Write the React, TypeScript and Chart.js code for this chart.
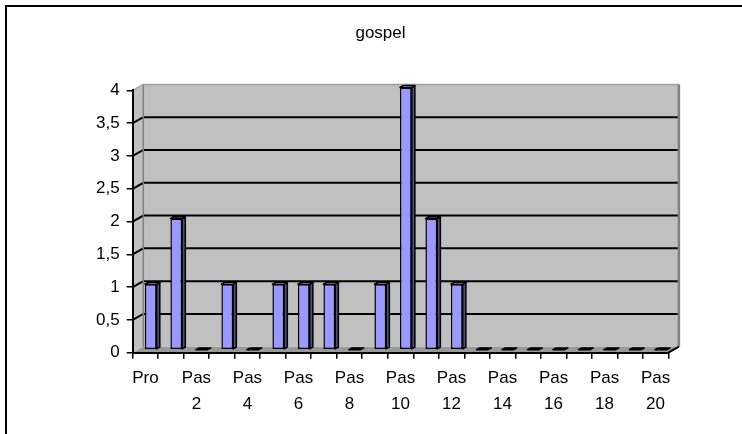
import React, { useEffect, useRef } from "react";
import { Chart, registerables } from "chart.js";

Chart.register(...registerables);

const TITLE = "gospel";
const LABELS = [
  "Pro", "Pas 1", "Pas 2", "Pas 3", "Pas 4", "Pas 5", "Pas 6", "Pas 7", "Pas 8", "Pas 9", "Pas 10",
  "Pas 11", "Pas 12", "Pas 13", "Pas 14", "Pas 15", "Pas 16", "Pas 17", "Pas 18", "Pas 19", "Pas 20",
];
const VALUES = [1, 2, 0, 1, 0, 1, 1, 1, 0, 1, 4, 2, 1, 0, 0, 0, 0, 0, 0, 0, 0];
const Y_MIN = 0;
const Y_MAX = 4;
const Y_STEP = 0.5;

const FONT = "'Liberation Sans', Arial, sans-serif";
const DX = 10.6;
const DY = 6;

const wallPlugin = {
  id: "walls3d",
  beforeDraw(chart: any) {
    const { ctx, chartArea: a, scales } = chart;
    const ys = scales.y;
    ctx.save();
    ctx.fillStyle = "#fff";
    ctx.fillRect(0, 0, chart.width, chart.height);
    // outer frame
    ctx.strokeStyle = "#000";
    ctx.lineWidth = 2;
    ctx.beginPath();
    ctx.moveTo(6, chart.height + 2);
    ctx.lineTo(6, 6);
    ctx.lineTo(chart.width + 2, 6);
    ctx.stroke();

    const y0 = ys.getPixelForValue(ys.min);
    const yT = ys.getPixelForValue(ys.max);
    // left wall
    ctx.fillStyle = "#c0c0c0";
    ctx.beginPath();
    ctx.moveTo(a.left, yT);
    ctx.lineTo(a.left + DX, yT - DY);
    ctx.lineTo(a.left + DX, y0 - DY);
    ctx.lineTo(a.left, y0);
    ctx.closePath();
    ctx.fill();
    // back wall
    ctx.fillRect(a.left + DX, yT - DY, a.right - a.left, y0 - yT);
    // floor
    ctx.fillStyle = "#999999";
    ctx.beginPath();
    ctx.moveTo(a.left, y0);
    ctx.lineTo(a.right, y0);
    ctx.lineTo(a.right + DX, y0 - DY);
    ctx.lineTo(a.left + DX, y0 - DY);
    ctx.closePath();
    ctx.fill();

    // grid lines on the back and left walls
    ys.ticks.forEach((t: any) => {
      const v = t.value;
      if (v <= ys.min) return;
      const p = ys.getPixelForValue(v);
      const isTop = v >= ys.max;
      ctx.strokeStyle = isTop ? "#a0a0a0" : "#000";
      ctx.lineWidth = isTop ? 1.5 : 2;
      ctx.beginPath();
      ctx.moveTo(a.left, p);
      ctx.lineTo(a.left + DX, p - DY);
      ctx.lineTo(a.right + DX, p - DY);
      ctx.stroke();
    });
    // wall corner and right edge
    ctx.strokeStyle = "#808080";
    ctx.lineWidth = 1.5;
    ctx.beginPath();
    ctx.moveTo(a.left + DX, yT - DY);
    ctx.lineTo(a.left + DX, y0 - DY);
    ctx.stroke();
    ctx.lineWidth = 2.5;
    ctx.beginPath();
    ctx.moveTo(a.right + DX, yT - DY);
    ctx.lineTo(a.right + DX, y0 - DY);
    ctx.stroke();
    // floor right edge
    ctx.strokeStyle = "#000";
    ctx.lineWidth = 2;
    ctx.beginPath();
    ctx.moveTo(a.right, y0);
    ctx.lineTo(a.right + DX, y0 - DY);
    ctx.stroke();
    ctx.restore();
  },
};

const barPlugin = {
  id: "bars3d",
  beforeDatasetsDraw(chart: any) {
    chart.ctx.save();
    chart.ctx.translate(DX / 2, -DY / 2);
  },
  afterDatasetsDraw(chart: any) {
    const ctx = chart.ctx;
    const meta = chart.getDatasetMeta(0);
    const bd = 3.2;
    const bdy = (bd * DY) / DX;
    ctx.lineWidth = 1.5;
    ctx.strokeStyle = "#000";
    ctx.lineJoin = "round";
    meta.data.forEach((el: any) => {
      const { x, y, base, width } = el.getProps(["x", "y", "base", "width"], true);
      const l = x - width / 2;
      const r = x + width / 2;
      if (base - y > 0.5) {
        ctx.fillStyle = "#4d4d80";
        ctx.beginPath();
        ctx.moveTo(r, y);
        ctx.lineTo(r + bd, y - bdy);
        ctx.lineTo(r + bd, base - bdy);
        ctx.lineTo(r, base);
        ctx.closePath();
        ctx.fill();
        ctx.stroke();
        ctx.fillStyle = "#ccccff";
        ctx.beginPath();
        ctx.moveTo(l, y);
        ctx.lineTo(r, y);
        ctx.lineTo(r + bd, y - bdy);
        ctx.lineTo(l + bd, y - bdy);
        ctx.closePath();
        ctx.fill();
        ctx.stroke();
      } else {
        ctx.fillStyle = "#000";
        ctx.beginPath();
        ctx.moveTo(l, base);
        ctx.lineTo(r, base);
        ctx.lineTo(r + bd, base - bdy);
        ctx.lineTo(l + bd, base - bdy);
        ctx.closePath();
        ctx.fill();
        ctx.stroke();
      }
    });
    ctx.restore();
  },
};

export default function App() {
  const ref = useRef<HTMLCanvasElement | null>(null);

  useEffect(() => {
    if (!ref.current) return;
    const chart = new Chart(ref.current, {
      type: "bar",
      data: {
        labels: LABELS,
        datasets: [
          {
            data: VALUES,
            backgroundColor: "#9999ff",
            borderColor: "#000",
            borderWidth: 1.5,
            borderSkipped: false,
            barPercentage: 0.46,
            categoryPercentage: 1,
            clip: false,
          } as any,
        ],
      },
      options: {
        animation: false,
        responsive: false,
        events: [],
        layout: { padding: { left: 92.7, right: 73.7, top: 0, bottom: 21.3 } },
        plugins: {
          legend: { display: false },
          tooltip: { enabled: false },
          title: {
            display: true,
            text: TITLE,
            color: "#000",
            font: { family: FONT, size: 17, weight: "normal", lineHeight: 1.2 },
            padding: { top: 23, bottom: 47 },
          },
        },
        scales: {
          x: {
            type: "category",
            offset: true,
            grid: {
              offset: true,
              drawOnChartArea: false,
              drawTicks: true,
              tickLength: 6,
              color: "#000",
              lineWidth: 1.5,
            },
            border: { display: true, color: "#000", width: 2 },
            ticks: {
              autoSkip: false,
              maxRotation: 0,
              minRotation: 0,
              padding: 6,
              color: "#000",
              font: { family: FONT, size: 17, lineHeight: 1.55 },
              callback: (_v: any, i: number) => {
                if (i % 2 !== 0) return "";
                const parts = LABELS[i].split(" ");
                return parts.length > 1 ? parts : parts[0];
              },
            },
            afterFit: (s: any) => {
              s.height = 60;
            },
          },
          y: {
            type: "linear",
            min: Y_MIN,
            max: Y_MAX,
            grid: {
              drawOnChartArea: false,
              drawTicks: true,
              tickLength: 6,
              color: "#000",
              lineWidth: 1.5,
            },
            border: { display: true, color: "#000", width: 2 },
            ticks: {
              stepSize: Y_STEP,
              padding: 7,
              color: "#000",
              font: { family: FONT, size: 17 },
              callback: (v: any) => String(v).replace(".", ","),
            },
            afterFit: (s: any) => {
              s.width = 40;
            },
          },
        },
      },
      plugins: [wallPlugin, barPlugin],
    } as any);
    return () => chart.destroy();
  }, []);

  return (
    <div style={{ position: "fixed", left: 0, top: 0, width: 742, height: 434, background: "#fff" }}>
      <canvas ref={ref} width={742} height={434} style={{ display: "block" }} />
    </div>
  );
}
